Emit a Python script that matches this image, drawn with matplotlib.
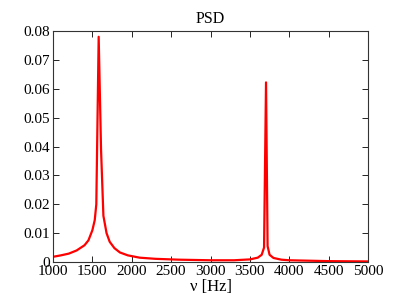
import numpy as np
import matplotlib
matplotlib.use('Agg')
import matplotlib.pyplot as plt

# frequency samples (Hz) and PSD values
freq = [1000, 1100, 1200, 1300, 1400, 1450, 1500, 1530, 1550, 1580, 1610,
        1640, 1680, 1720, 1780, 1850, 1950, 2100, 2300, 2600, 3000, 3300,
        3500, 3600, 3650, 3680, 3705, 3725, 3750, 3800, 3900, 4000, 4500, 5000]
psd = [0.0018, 0.0023, 0.0029, 0.0040, 0.0058, 0.0075, 0.0110, 0.0145, 0.0200,
       0.0780, 0.0390, 0.0160, 0.0100, 0.0070, 0.0048, 0.0033, 0.0023, 0.0015,
       0.0011, 0.0008, 0.0006, 0.0006, 0.0009, 0.0015, 0.0025, 0.0050, 0.0622,
       0.0055, 0.0025, 0.0014, 0.0008, 0.0006, 0.0003, 0.0002]

plt.rcParams['font.family'] = ['Liberation Serif', 'DejaVu Serif']
plt.rcParams['font.size'] = 11

fig = plt.figure(figsize=(4.07, 3.04), dpi=100)
ax = fig.add_axes([53/407, 1 - 262/304, 315/407, 231/304])
ax.plot(freq, psd, color='red', linewidth=1.6)
ax.set_xlim(1000, 5000)
ax.set_ylim(0, 0.08)
ax.set_xticks(np.arange(1000, 5001, 500))
ax.set_yticks(np.arange(0, 0.0801, 0.01))
ax.set_yticklabels(['0'] + ['%.2f' % v for v in np.arange(0.01, 0.0801, 0.01)])
ax.tick_params(direction='in', top=True, right=True, length=4, width=0.6, pad=2)
for s in ax.spines.values():
    s.set_color('#333333')
    s.set_linewidth(0.8)
ax.set_title('PSD', fontsize=11.5, pad=6)
ax.set_xlabel('ν [Hz]', fontsize=12, labelpad=1)

plt.savefig('out.png', dpi=100)
